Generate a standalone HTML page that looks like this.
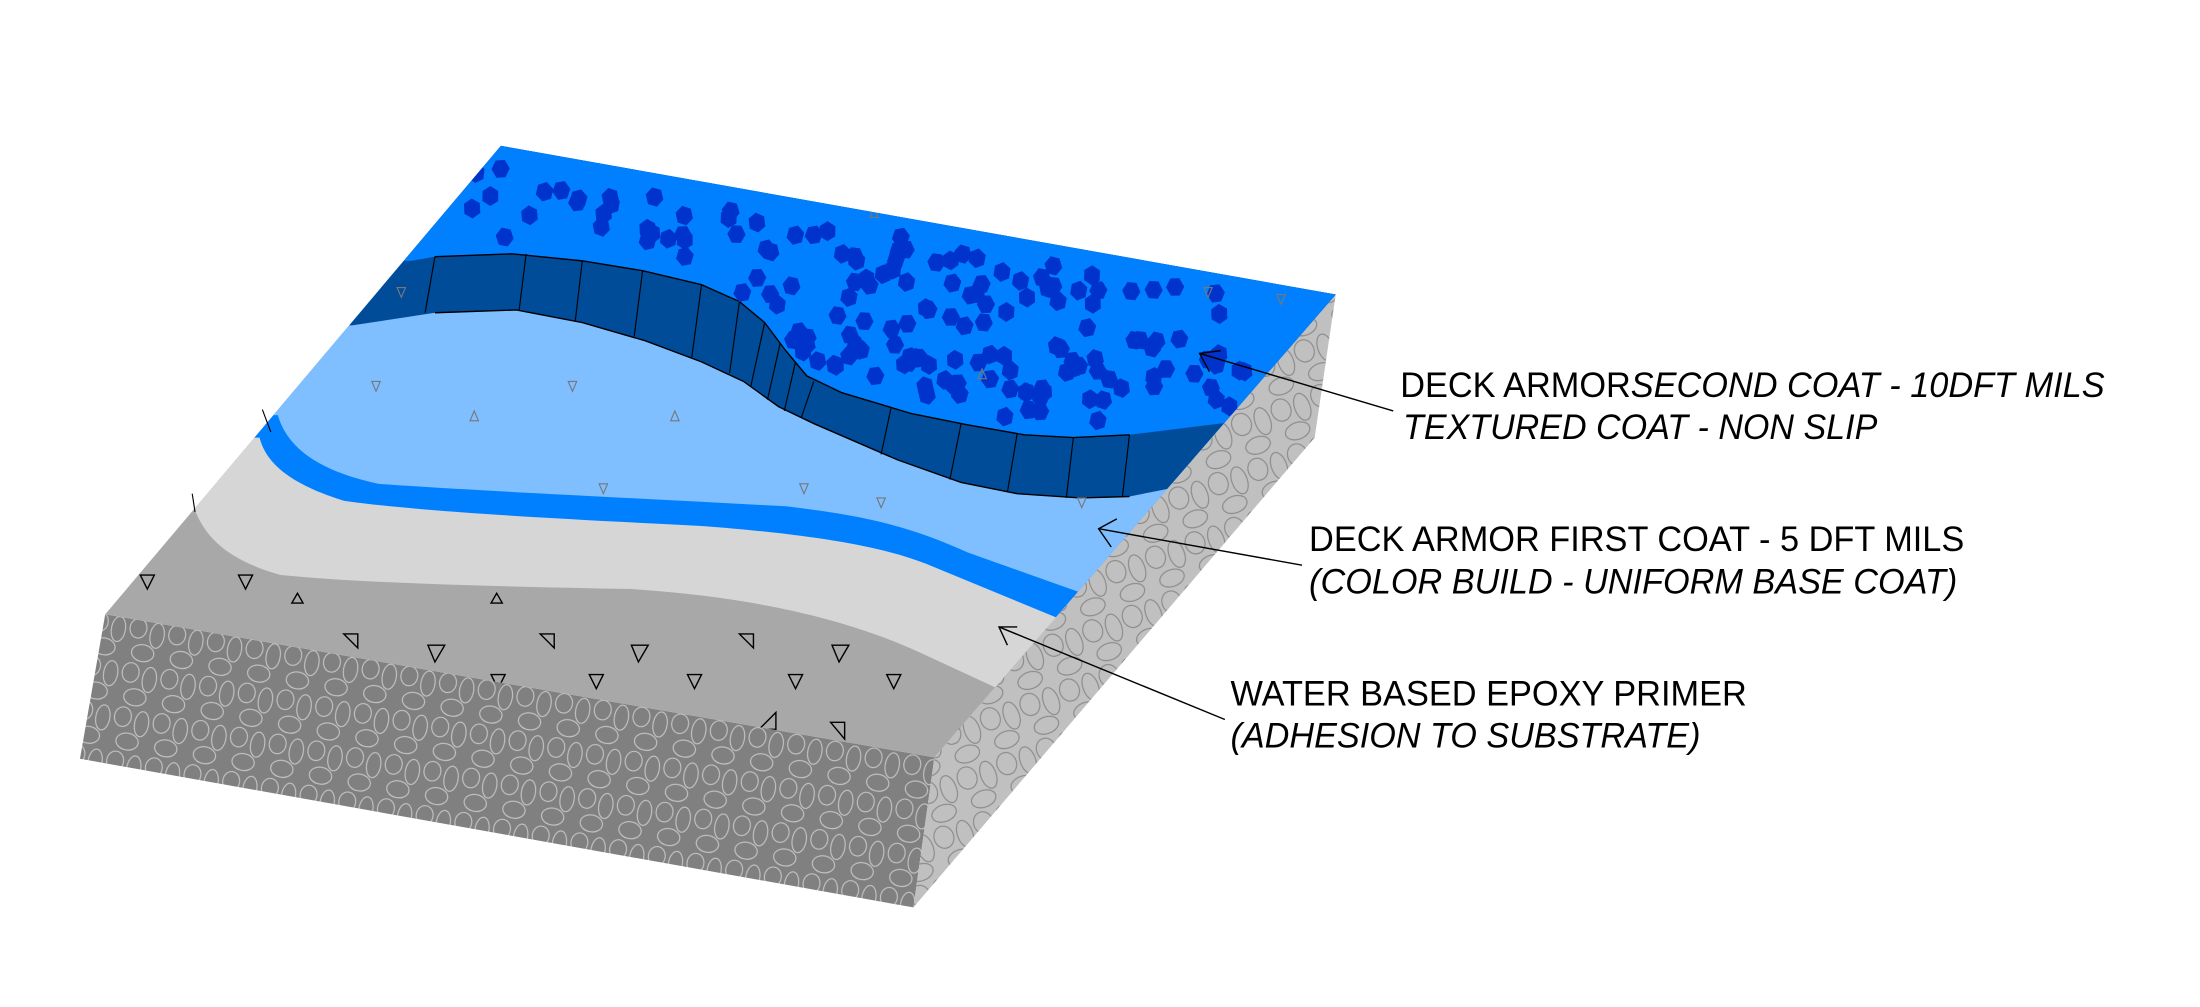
<!DOCTYPE html>
<html><head><meta charset="utf-8"><style>html,body{margin:0;padding:0;background:#fff}svg{display:block}</style></head>
<body>
<svg id="s" width="2200" height="1007" viewBox="0 0 1568 718" preserveAspectRatio="none" xmlns="http://www.w3.org/2000/svg">
<defs>
<clipPath id="top"><polygon points="357,104 952,210 666,540 75,438"/></clipPath>
<pattern id="cobF" width="28" height="32" patternUnits="userSpaceOnUse" patternTransform="rotate(10)">
<rect width="28" height="32" fill="#808080"/>
<ellipse cx="7" cy="8" rx="6" ry="7" fill="none" stroke="#c4c4c4" stroke-width="0.8"/>
<ellipse cx="21" cy="11" rx="5" ry="9" fill="none" stroke="#c4c4c4" stroke-width="0.8"/>
<ellipse cx="13" cy="25" rx="8" ry="6" fill="none" stroke="#c4c4c4" stroke-width="0.8"/>
</pattern>
<pattern id="cobR" width="30" height="34" patternUnits="userSpaceOnUse" patternTransform="rotate(-20)">
<rect width="30" height="34" fill="#c0c0c0"/>
<ellipse cx="8" cy="9" rx="7" ry="8" fill="none" stroke="#8a8a8a" stroke-width="0.8"/>
<ellipse cx="23" cy="12" rx="5.5" ry="10" fill="none" stroke="#8a8a8a" stroke-width="0.8"/>
<ellipse cx="14" cy="27" rx="9" ry="6" fill="none" stroke="#8a8a8a" stroke-width="0.8"/>
</pattern>
</defs>
<rect width="1568" height="718" fill="#fff"/>
<polygon points="75,438 666,540 651,647 57,541" fill="url(#cobF)"/>
<polygon points="952,210 937,312 651,647 666,540" fill="url(#cobR)"/>
<g clip-path="url(#top)">
<rect width="1568" height="718" fill="#a8a8a8"/>
<path d="M60,358 L137,358 C145,385 165,400 200,410 C260,416 350,418 450,420 C540,426 605,442 655,465 L720,495 L1000,495 L1000,0 L0,0 Z" fill="#d6d6d6"/>
<path d="M60,312 L185,312 C190,332 210,346 245,357 C300,365 400,370 500,375 C580,381 630,390 660,402 L762,444 L1000,444 L1000,0 L0,0 Z" fill="#0080ff"/>
<path d="M60,296 L198,296 C205,320 228,336 270,345 C340,350 450,355 560,361 C620,368 650,376 690,394 L780,426 L1000,426 L1000,0 L0,0 Z" fill="#7fbfff"/>
<path d="M60,232 L251,232 L310,223 L368,221 L415,230 L460,243 L500,258 L530,272 L555,290 L580,302 L640,328 L685,344 L725,352 L770,355 L805,354 L835,348 L900,340 L1000,340 L1000,0 L0,0 Z" fill="#004c99"/>
<path d="M60,186 L293,186 L310,183 L365,181 L415,186 L458,193 L500,203 L527,215 L545,230 L560,250 L575,268 L600,280 L650,295 L690,303 L730,310 L765,312 L805,310 L870,302 L1000,290 L1000,0 L0,0 Z" fill="#0080ff"/>
<polyline points="310,183 365,181 415,186 458,193 500,203 527,215 545,230 560,250 575,268 600,280 650,295 690,303 730,310 765,312 805,310" fill="none" stroke="#000" stroke-width="1"/>
<polyline points="310,223 368,221 415,230 460,243 500,258 530,272 555,290 580,302 640,328 685,344 725,352 770,355 805,354" fill="none" stroke="#000" stroke-width="1"/>
<g stroke="#000" stroke-width="0.8">
<line x1="310" y1="183" x2="303" y2="223"/><line x1="375" y1="181" x2="370" y2="221"/><line x1="415" y1="186" x2="410" y2="229"/>
<line x1="458" y1="193" x2="452" y2="240"/><line x1="500" y1="203" x2="493" y2="255"/><line x1="527" y1="215" x2="520" y2="266"/>
<line x1="545" y1="230" x2="535" y2="276"/><line x1="556" y1="245" x2="547" y2="285"/><line x1="567" y1="258" x2="559" y2="293"/>
<line x1="580" y1="272" x2="571" y2="298"/><line x1="635" y1="291" x2="628" y2="324"/><line x1="685" y1="302" x2="677" y2="342"/>
<line x1="725" y1="309" x2="718" y2="351"/><line x1="765" y1="312" x2="760" y2="355"/><line x1="805" y1="310" x2="800" y2="354"/>
</g>
<g id="dots" fill="#0033cc"></g>
<g fill="none" stroke="#000" stroke-width="1">
<path d="M100,410 l10,0 l-5,10z M170,410 l10,0 l-5,10z M208,430 l8,0 l-4,-7z M350,430 l8,0 l-4,-7z M245,452 l10,0 l0,10z M305,460 l12,0 l-7,12z M385,452 l10,0 l0,10z M450,460 l12,0 l-7,12z M527,452 l10,0 l0,10z M593,460 l12,0 l-7,12z M350,481 l10,0 l-5,10z M420,481 l10,0 l-5,10z M490,481 l10,0 l-5,10z M562,481 l10,0 l-5,10z M632,481 l10,0 l-5,10z M541,520 l12,-12 l0,12z M592,515 l10,0 l0,12z M684,520 l12,-12 l0,12z"/>
</g>
<g fill="none" stroke="#777" stroke-width="0.8">
<path d="M283,205 l6,0 l-3,7z M265,272 l6,0 l-3,7z M405,272 l6,0 l-3,7z M335,300 l6,0 l-3,-7z M478,300 l6,0 l-3,-7z M427,345 l6,0 l-3,7z M570,345 l6,0 l-3,7z M625,355 l6,0 l-3,7z M768,355 l6,0 l-3,7z M620,155 l6,0 l-3,-7z M697,270 l6,0 l-3,-7z M858,205 l6,0 l-3,7z M910,210 l6,0 l-3,7z"/>
</g>
</g>
<line x1="187" y1="292" x2="193" y2="308" stroke="#000" stroke-width="0.8"/>
<line x1="137" y1="352" x2="139" y2="365" stroke="#000" stroke-width="0.8"/>
<g fill="none" stroke="#000" stroke-width="1">
<polyline points="993,293 855,252"/><polyline points="870,250 855,252 862,265"/>
<polyline points="928,403 783,377"/><polyline points="796,370 783,377 792,390"/>
<polyline points="873,513 712,447"/><polyline points="725,447 712,447 718,460"/>
</g>
<g font-family="Liberation Sans, sans-serif" font-size="25" fill="#000">
<text x="998" y="283" textLength="502" lengthAdjust="spacingAndGlyphs">DECK ARMOR<tspan font-style="italic">SECOND COAT - 10DFT MILS</tspan></text>
<text x="1000" y="313" textLength="338" lengthAdjust="spacingAndGlyphs" font-style="italic">TEXTURED COAT - NON SLIP</text>
<text x="933" y="393" textLength="467" lengthAdjust="spacingAndGlyphs">DECK ARMOR FIRST COAT - 5 DFT MILS</text>
<text x="933" y="423" textLength="462" lengthAdjust="spacingAndGlyphs" font-style="italic">(COLOR BUILD - UNIFORM BASE COAT)</text>
<text x="877" y="503" textLength="368" lengthAdjust="spacingAndGlyphs">WATER BASED EPOXY PRIMER</text>
<text x="877" y="533" textLength="335" lengthAdjust="spacingAndGlyphs" font-style="italic">(ADHESION TO SUBSTRATE)</text>
</g>
</svg>
<script>
(function(){
var g=document.getElementById('dots');var seed=11;function r(){seed=(seed*16807)%2147483647;return seed/2147483647;}
function topEdge(x){return 104+(x-357)*(106/595);}
function bound(x){var p=[[330,180],[415,186],[500,203],[545,230],[575,268],[650,295],[730,310],[805,310],[870,302],[940,290]];
for(var i=0;i<p.length-1;i++){if(x>=p[i][0]&&x<=p[i+1][0]){var t=(x-p[i][0])/(p[i+1][0]-p[i][0]);return p[i][1]+t*(p[i+1][1]-p[i][1]);}}return 0;}
var n=0,tries=0,s='';
while(n<160&&tries<5000){tries++;var x=330+r()*560,y=110+r()*200;
var b=bound(x);if(!b)continue;if(y<topEdge(x)+14||y>b-10)continue;
var a=r()*6.28,rr=6.5;var pts=[];for(var k=0;k<6;k++){var an=a+k*1.047;pts.push((x+rr*Math.cos(an)).toFixed(1)+','+(y+rr*1.1*Math.sin(an)).toFixed(1));}
s+='<polygon points="'+pts.join(' ')+'"/>';n++;}
g.innerHTML=s;})();
</script>
</body></html>
